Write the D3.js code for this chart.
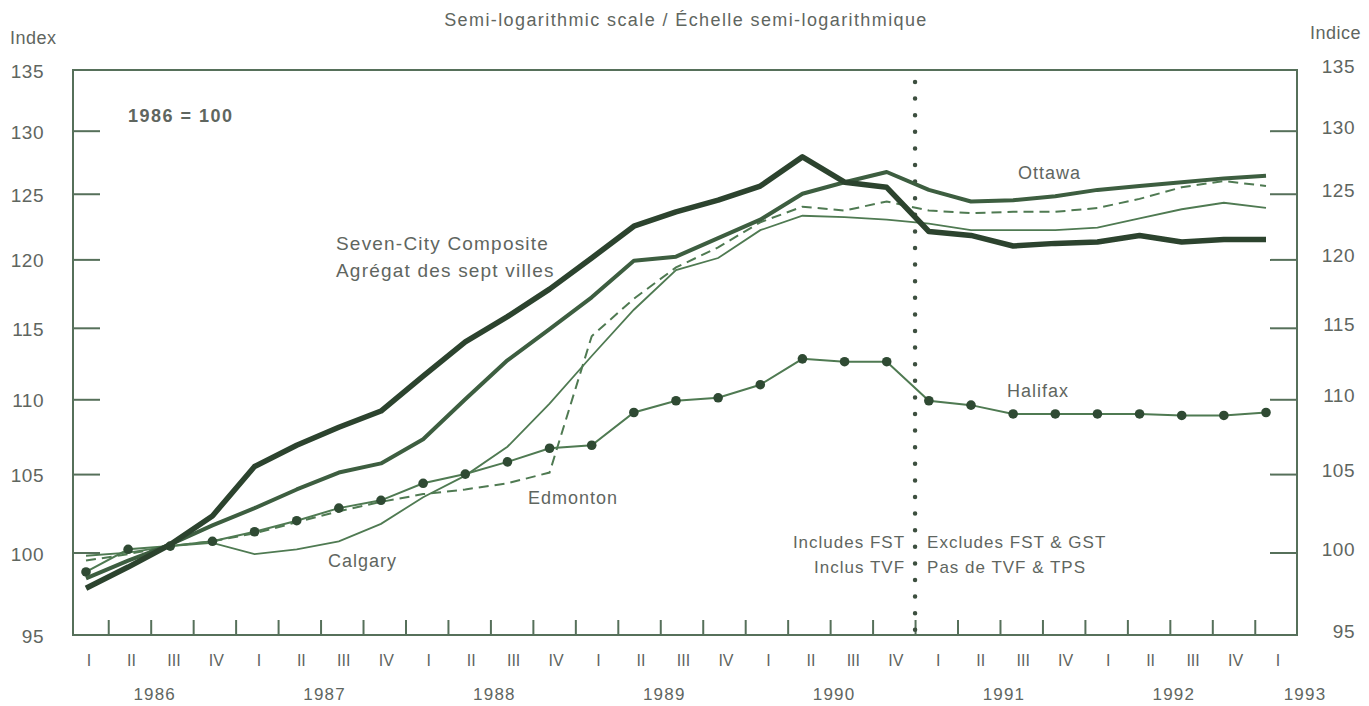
<!DOCTYPE html>
<html>
<head>
<meta charset="utf-8">
<script src="https://cdn.jsdelivr.net/npm/d3@7"></script>
<style>
  body { margin: 0; background: #fff; }
  svg text { font-family: "Liberation Sans", Arial, sans-serif; fill: #5f665f; }
</style>
</head>
<body>
<svg id="chart" width="1369" height="706"></svg>
<script>
// quarters 1986 I .. 1993 I
const quarterLabels = ["I","II","III","IV","I","II","III","IV","I","II","III","IV","I","II","III","IV",
                       "I","II","III","IV","I","II","III","IV","I","II","III","IV","I"];
const yearLabels = ["1986","1987","1988","1989","1990","1991","1992","1993"];
const yTickValues = [95, 100, 105, 110, 115, 120, 125, 130, 135];

// index values, 1986 = 100
const composite = [97.8, 99.1, 100.5, 102.3, 105.5, 106.9, 108.1, 109.2, 111.6, 114.0, 115.8, 117.8, 120.1, 122.5,
                   123.6, 124.5, 125.6, 127.9, 125.9, 125.5, 122.1, 121.8, 121.0, 121.2, 121.3, 121.8, 121.3, 121.5, 121.5];
const ottawa    = [98.4, 99.5, 100.5, 101.7, 102.8, 104.0, 105.1, 105.7, 107.3, 110.0, 112.7, 114.9, 117.2, 119.9,
                   120.2, 121.6, 123.0, 125.0, 125.9, 126.7, 125.3, 124.4, 124.5, 124.8, 125.3, 125.6, 125.9, 126.2, 126.4];
const edmonton  = [99.5, 99.9, 100.4, 100.7, 101.2, 101.9, 102.6, 103.2, 103.7, 104.0, 104.4, 105.1, 114.4, 117.1,
                   119.4, 120.9, 122.8, 124.0, 123.7, 124.4, 123.7, 123.5, 123.6, 123.6, 123.9, 124.6, 125.5, 126.0, 125.6];
const calgary   = [99.8, 100.0, 100.4, 100.6, 99.9, 100.2, 100.7, 101.8, 103.5, 104.9, 106.8, 109.7, 113.0, 116.3,
                   119.2, 120.1, 122.2, 123.3, 123.2, 123.0, 122.7, 122.2, 122.2, 122.2, 122.4, 123.1, 123.8, 124.3, 123.9];
const halifax   = [98.8, 100.2, 100.4, 100.7, 101.3, 102.0, 102.8, 103.3, 104.4, 105.0, 105.8, 106.7, 106.9, 109.1,
                   109.9, 110.1, 111.0, 112.8, 112.6, 112.6, 109.9, 109.6, 109.0, 109.0, 109.0, 109.0, 108.9, 108.9, 109.1];

const frame = { left: 73, right: 1297, top: 70, bottom: 635 };
const axisColor = "#56705a";
const lineDark = "#2c432e";
const lineMid = "#3d5e40";
const lineLight = "#4f7a52";

const svg = d3.select("#chart");

// data positions and the printed quarter grid drift slightly apart in the original
const x = d3.scaleLinear().domain([0, 28]).range([86, 1266]);
const xq = d3.scaleLinear().domain([0, 28]).range([87, 1276]);
const y = d3.scaleLog().domain([95, 135]).range([frame.bottom, frame.top]);

// frame
svg.append("rect")
  .attr("x", frame.left).attr("y", frame.top)
  .attr("width", frame.right - frame.left).attr("height", frame.bottom - frame.top)
  .attr("fill", "none").attr("stroke", axisColor).attr("stroke-width", 2);

// inward ticks on both sides
const innerTicks = yTickValues.slice(1, -1);
const leftAxis = svg.append("g")
  .attr("transform", `translate(${frame.left},0)`)
  .call(d3.axisRight(y).tickValues(innerTicks).tickSize(27).tickFormat(""));
const rightAxis = svg.append("g")
  .attr("transform", `translate(${frame.right},0)`)
  .call(d3.axisLeft(y).tickValues(innerTicks).tickSize(27).tickFormat(""));
[leftAxis, rightAxis].forEach(g => {
  g.select(".domain").remove();
  g.selectAll("line").attr("stroke", axisColor).attr("stroke-width", 2);
});

// bottom quarter ticks, pointing up
const bottomAxis = svg.append("g")
  .attr("transform", `translate(0,${frame.bottom})`)
  .call(d3.axisTop(xq).tickValues(d3.range(0.5, 28, 1)).tickSize(15).tickFormat(""));
bottomAxis.select(".domain").remove();
bottomAxis.selectAll("line").attr("stroke", axisColor).attr("stroke-width", 2);

// y labels
svg.append("g").selectAll("text").data(yTickValues).join("text")
  .attr("x", 44).attr("y", d => y(d) + 8)
  .attr("text-anchor", "end").attr("font-size", 19).attr("letter-spacing", 0.5)
  .text(d => d);
svg.append("g").selectAll("text").data(yTickValues).join("text")
  .attr("x", 1355).attr("y", d => y(d) + 3)
  .attr("text-anchor", "end").attr("font-size", 19).attr("letter-spacing", 0.5)
  .text(d => d);
svg.append("text").attr("x", 10).attr("y", 44).attr("font-size", 18).attr("letter-spacing", 0.5).text("Index");
svg.append("text").attr("x", 1310).attr("y", 39).attr("font-size", 18).attr("letter-spacing", 0.5).text("Indice");

// x labels
svg.append("g").selectAll("text").data(quarterLabels).join("text")
  .attr("x", (d, i) => xq(i) + 2).attr("y", 666)
  .attr("text-anchor", "middle").attr("font-size", 16)
  .text(d => d);
svg.append("g").selectAll("text").data(yearLabels).join("text")
  .attr("x", (d, i) => i < 7 ? xq(i * 4 + 1.5) + 4 : xq(28) + 29)
  .attr("y", 700)
  .attr("text-anchor", "middle").attr("font-size", 17).attr("letter-spacing", 1.2)
  .text(d => d);

// title and notes
svg.append("text").attr("x", 686).attr("y", 26).attr("text-anchor", "middle")
  .attr("font-size", 18).attr("letter-spacing", 1.4)
  .text("Semi-logarithmic scale / Échelle semi-logarithmique");
svg.append("text").attr("x", 128).attr("y", 122).attr("font-size", 18)
  .attr("font-weight", "bold").attr("fill", "#3d4a3d").attr("letter-spacing", 1.5)
  .text("1986 = 100");

// tax break line
const breakX = xq(19.5);
svg.append("line")
  .attr("x1", breakX).attr("x2", breakX).attr("y1", frame.top + 12).attr("y2", frame.bottom)
  .attr("stroke", "#3d4f3f").attr("stroke-width", 4.5)
  .attr("stroke-linecap", "round").attr("stroke-dasharray", "0 16.6");

const line = d3.line().x((d, i) => x(i)).y(d => y(d));

svg.append("path").datum(calgary).attr("d", line)
  .attr("fill", "none").attr("stroke", lineLight).attr("stroke-width", 1.8);
svg.append("path").datum(edmonton).attr("d", line)
  .attr("fill", "none").attr("stroke", lineLight).attr("stroke-width", 2)
  .attr("stroke-dasharray", "10 6");
svg.append("path").datum(halifax).attr("d", line)
  .attr("fill", "none").attr("stroke", lineLight).attr("stroke-width", 2);
svg.append("g").selectAll("circle").data(halifax).join("circle")
  .attr("cx", (d, i) => x(i)).attr("cy", d => y(d)).attr("r", 4.8)
  .attr("fill", "#2f4a33");
svg.append("path").datum(ottawa).attr("d", line)
  .attr("fill", "none").attr("stroke", lineMid).attr("stroke-width", 4)
  .attr("stroke-linejoin", "round");
svg.append("path").datum(composite).attr("d", line)
  .attr("fill", "none").attr("stroke", lineDark).attr("stroke-width", 5.5)
  .attr("stroke-linejoin", "round");

// series labels
const labels = [
  { t: "Seven-City Composite", x: 336, y: 250 },
  { t: "Agrégat des sept villes", x: 336, y: 277 },
  { t: "Ottawa", x: 1018, y: 179 },
  { t: "Halifax", x: 1007, y: 397 },
  { t: "Edmonton", x: 528, y: 504 },
  { t: "Calgary", x: 328, y: 567 }
];
svg.append("g").selectAll("text").data(labels).join("text")
  .attr("x", d => d.x).attr("y", d => d.y)
  .attr("font-size", d => d.t.length > 12 ? 19 : 18)
  .attr("letter-spacing", d => d.t.length > 12 ? 1.2 : 1)
  .text(d => d.t);

const notes = [
  { t: "Includes FST", x: breakX - 10, y: 548, a: "end" },
  { t: "Inclus TVF", x: breakX - 10, y: 573, a: "end" },
  { t: "Excludes FST & GST", x: breakX + 12, y: 548, a: "start" },
  { t: "Pas de TVF & TPS", x: breakX + 12, y: 573, a: "start" }
];
svg.append("g").selectAll("text").data(notes).join("text")
  .attr("x", d => d.x).attr("y", d => d.y).attr("text-anchor", d => d.a)
  .attr("font-size", 17).attr("letter-spacing", 1)
  .text(d => d.t);
</script>
</body>
</html>
